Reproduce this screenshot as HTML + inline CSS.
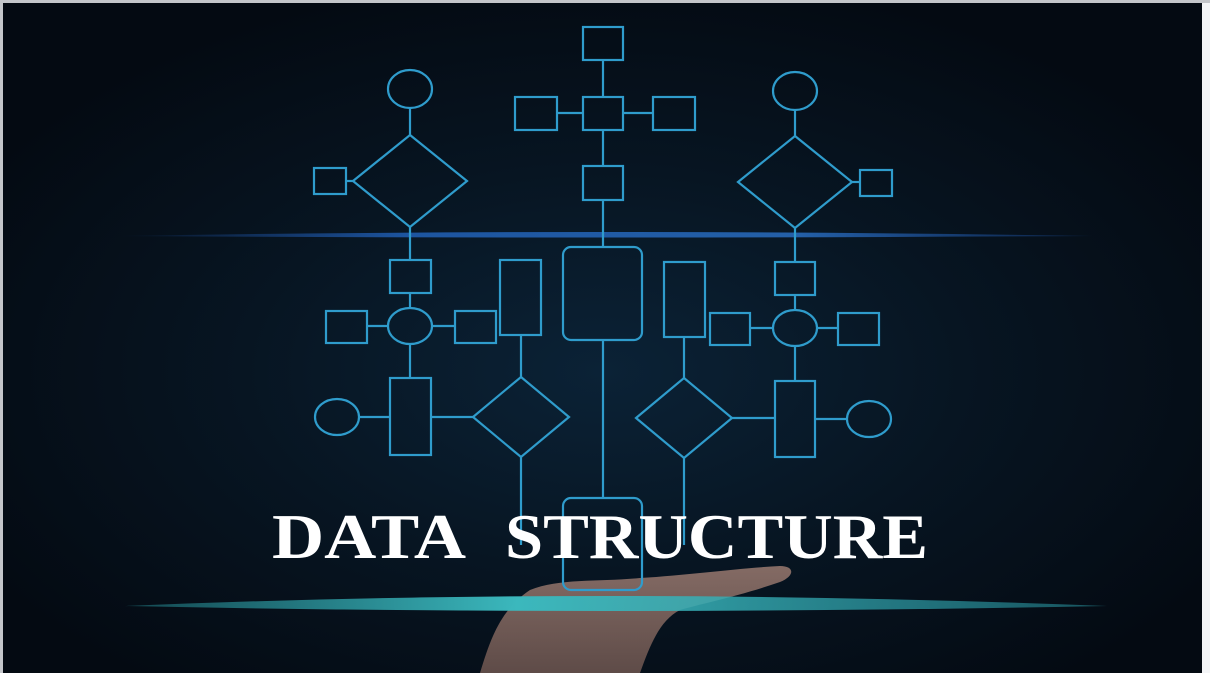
<!DOCTYPE html>
<html><head><meta charset="utf-8"><style>
html,body{margin:0;padding:0;width:1210px;height:673px;overflow:hidden;background:#f4f5f7}
svg{display:block}
</style></head><body>
<svg width="1210" height="673" viewBox="0 0 1210 673" xmlns="http://www.w3.org/2000/svg">
<defs>
<radialGradient id="bg" cx="0.5" cy="0.55" r="0.6">
<stop offset="0" stop-color="#0b2236"/><stop offset="0.5" stop-color="#071522"/><stop offset="1" stop-color="#040a12"/>
</radialGradient>
<linearGradient id="l1" x1="0" x2="1"><stop offset="0" stop-color="#1a4a9a" stop-opacity="0"/><stop offset="0.3" stop-color="#1d55a0"/><stop offset="0.7" stop-color="#2460a8"/><stop offset="1" stop-color="#1a4a9a" stop-opacity="0.3"/></linearGradient>
<linearGradient id="l2" x1="0" x2="1"><stop offset="0" stop-color="#2aa0a8" stop-opacity="0.4"/><stop offset="0.4" stop-color="#3bb8bd"/><stop offset="1" stop-color="#2a9ca8" stop-opacity="0.5"/></linearGradient>
<linearGradient id="hand" x1="0" y1="0" x2="0" y2="1"><stop offset="0" stop-color="#9a7a70"/><stop offset="1" stop-color="#6e5650"/></linearGradient>
</defs>
<rect x="3" y="3" width="1199" height="670" fill="url(#bg)"/>
<rect x="0" y="0" width="1210" height="3" fill="#c4c6ca"/>
<rect x="0" y="0" width="3" height="673" fill="#c4c6ca"/>
<!-- hand -->
<path d="M480 673 C490 640 500 610 530 590 C560 578 600 582 640 578 C690 575 740 568 780 566 C795 566 795 576 780 582 C740 596 700 604 680 610 C660 620 650 645 640 673 Z" fill="url(#hand)" opacity="0.85"/>
<!-- glow lines -->
<path d="M115 236 Q600 228 1093 236 Q600 239 115 236 Z" fill="url(#l1)"/>
<path d="M125 606 Q600 586 1107 606 Q600 616 125 606 Z" fill="url(#l2)"/>
<g fill="none" stroke="#2f9ccc" stroke-width="2.2">
<rect x="583" y="27" width="40" height="33"/>
<rect x="515" y="97" width="42" height="33"/><rect x="583" y="97" width="40" height="33"/><rect x="653" y="97" width="42" height="33"/>
<rect x="583" y="166" width="40" height="34"/>
<line x1="603" y1="60" x2="603" y2="97"/><line x1="603" y1="130" x2="603" y2="166"/><line x1="603" y1="200" x2="603" y2="247"/>
<line x1="557" y1="113" x2="583" y2="113"/><line x1="623" y1="113" x2="653" y2="113"/>
<rect x="563" y="247" width="79" height="93" rx="8"/>
<line x1="603" y1="340" x2="603" y2="498"/>
<rect x="563" y="498" width="79" height="92" rx="8"/>
<ellipse cx="410" cy="89" rx="22" ry="19"/>
<line x1="410" y1="108" x2="410" y2="135"/>
<polygon points="410,135 467,181 410,227 353,181"/>
<rect x="314" y="168" width="32" height="26"/><line x1="346" y1="181" x2="353" y2="181"/>
<line x1="410" y1="227" x2="410" y2="260"/>
<rect x="390" y="260" width="41" height="33"/>
<line x1="410" y1="293" x2="410" y2="308"/>
<ellipse cx="410" cy="326" rx="22" ry="18"/>
<rect x="326" y="311" width="41" height="32"/><rect x="455" y="311" width="41" height="32"/>
<line x1="367" y1="326" x2="388" y2="326"/><line x1="432" y1="326" x2="455" y2="326"/>
<line x1="410" y1="344" x2="410" y2="378"/>
<rect x="390" y="378" width="41" height="77"/>
<ellipse cx="337" cy="417" rx="22" ry="18"/><line x1="359" y1="417" x2="390" y2="417"/>
<line x1="431" y1="417" x2="473" y2="417"/>
<polygon points="521,377 569,417 521,457 473,417"/>
<rect x="500" y="260" width="41" height="75"/>
<line x1="521" y1="335" x2="521" y2="377"/>
<line x1="521" y1="457" x2="521" y2="545"/>
<ellipse cx="795" cy="91" rx="22" ry="19"/>
<line x1="795" y1="110" x2="795" y2="136"/>
<polygon points="795,136 852,182 795,228 738,182"/>
<rect x="860" y="170" width="32" height="26"/><line x1="852" y1="182" x2="860" y2="182"/>
<line x1="795" y1="228" x2="795" y2="262"/>
<rect x="775" y="262" width="40" height="33"/>
<line x1="795" y1="295" x2="795" y2="310"/>
<ellipse cx="795" cy="328" rx="22" ry="18"/>
<rect x="710" y="313" width="40" height="32"/><rect x="838" y="313" width="41" height="32"/>
<line x1="750" y1="328" x2="773" y2="328"/><line x1="817" y1="328" x2="838" y2="328"/>
<line x1="795" y1="346" x2="795" y2="381"/>
<rect x="775" y="381" width="40" height="76"/>
<ellipse cx="869" cy="419" rx="22" ry="18"/><line x1="815" y1="419" x2="847" y2="419"/>
<line x1="732" y1="418" x2="775" y2="418"/>
<polygon points="684,378 732,418 684,458 636,418"/>
<rect x="664" y="262" width="41" height="75"/>
<line x1="684" y1="337" x2="684" y2="378"/>
<line x1="684" y1="458" x2="684" y2="545"/>
</g>
<g font-family="'Liberation Serif',serif" font-weight="bold" font-size="64" fill="#ffffff">
<text x="272" y="558" textLength="194" lengthAdjust="spacingAndGlyphs">DATA</text>
<text x="505" y="558" textLength="423" lengthAdjust="spacingAndGlyphs">STRUCTURE</text>
</g>
</svg>
</body></html>
